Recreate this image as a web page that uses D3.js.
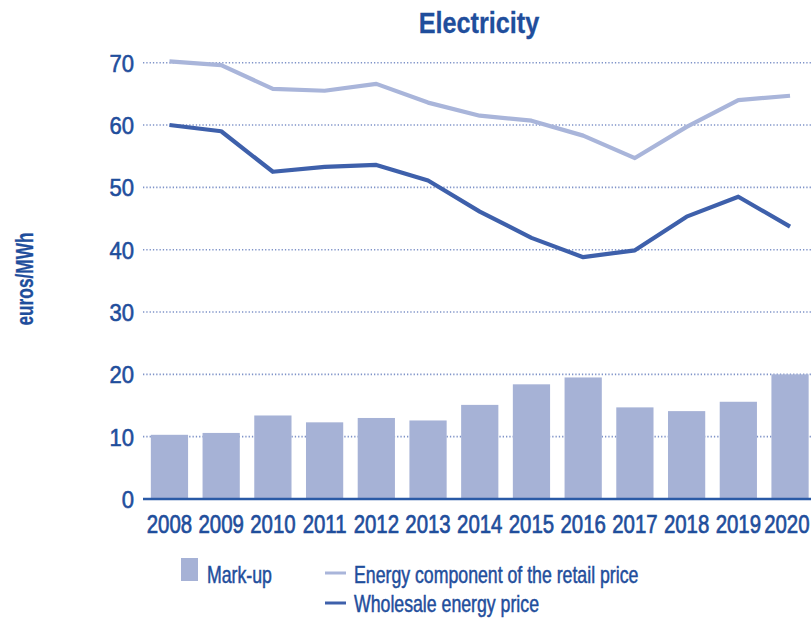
<!DOCTYPE html>
<html><head><meta charset="utf-8">
<script src="https://cdn.jsdelivr.net/npm/d3@7/dist/d3.min.js"></script>
<style>
body{margin:0;background:#fff;}
text{font-family:"Liberation Sans","Arial",sans-serif;fill:#1f4e9c;stroke:#1f4e9c;stroke-width:0.5px;}
</style></head>
<body>
<svg id="chart" width="811" height="623"></svg>
<script>
const years = ["2008","2009","2010","2011","2012","2013","2014","2015","2016","2017","2018","2019","2020"];
const markup = [10.3,10.6,13.4,12.3,13.0,12.6,15.1,18.4,19.5,14.7,14.1,15.6,20.0];
const retail = [70.2,69.6,65.8,65.5,66.6,63.6,61.5,60.7,58.3,54.7,59.7,64.0,64.7];
const wholesale = [60.0,59.0,52.5,53.3,53.6,51.1,46.1,41.9,38.8,39.9,45.3,48.5,43.7];
const yTicks = [0,10,20,30,40,50,60,70];

const svg = d3.select("#chart");
const x = d3.scaleBand().domain(years).range([143.6,815.9]).paddingInner(0.28).paddingOuter(0.14);
const y = d3.scaleLinear().domain([0,70]).range([499,62.7]);

// condensed text helper
function ctext(g, tx, ty, sx, size, str, weight, anchor){
  return g.append("text").attr("transform",`translate(${tx},${ty}) scale(${sx},1)`)
    .attr("font-size",size).attr("font-weight",weight||"normal")
    .attr("text-anchor",anchor||"start").text(str);
}

// title
ctext(svg,479,33,0.87,29,"Electricity","bold","middle").style("stroke-width","0.3px");

// y title
svg.append("text").attr("transform","translate(33,279) rotate(-90) scale(0.72,1)").attr("text-anchor","middle")
  .attr("font-size",24).attr("font-weight","bold").style("stroke-width","0.3px").text("euros/MWh");

// gridlines
svg.append("g").selectAll("line").data(yTicks.filter(d=>d>0)).join("line")
  .attr("x1",143).attr("x2",811).attr("y1",d=>y(d)).attr("y2",d=>y(d))
  .attr("stroke","#7f93c8").attr("stroke-width",1.6).attr("stroke-dasharray","1.3,2");

// y axis labels
const yAxis = d3.axisLeft(y).tickValues(yTicks).tickSize(0).tickPadding(0);
const ga = svg.append("g").attr("transform","translate(134,0)").call(yAxis);
ga.select(".domain").remove();
ga.selectAll("text").attr("font-size",24).attr("dy","0.35em").attr("x",0)
  .attr("transform","scale(0.92,1)").style("font-family",null).attr("fill",null).style("stroke-width","0.6px");

// bars
svg.append("g").selectAll("rect").data(years).join("rect")
  .attr("x",d=>x(d)).attr("width",x.bandwidth())
  .attr("y",(d,i)=>y(markup[i])).attr("height",(d,i)=>y(0)-y(markup[i]))
  .attr("fill","#a6b2d6");

// baseline
svg.append("line").attr("x1",143).attr("x2",811).attr("y1",y(0)).attr("y2",y(0))
  .attr("stroke","#2a5aa6").attr("stroke-width",2.6);

// x axis labels
const xAxis = d3.axisBottom(x).tickSize(0).tickPadding(0);
const gx = svg.append("g").attr("transform","translate(0,"+(y(0))+")").call(xAxis);
gx.select(".domain").remove();
gx.selectAll("text").attr("font-size",25.5).attr("y",34.5).attr("dy",0)
  .attr("x",(d,i)=>i===years.length-1?-4:0)
  .attr("transform","scale(0.8,1)").style("font-family",null).attr("fill",null).style("stroke-width","0.7px");

// lines
const line = d3.line().x(d=>x(d[0])+x.bandwidth()/2).y(d=>y(d[1]));
svg.append("path").datum(years.map((d,i)=>[d,retail[i]])).attr("d",line)
  .attr("fill","none").attr("stroke","#a9b5da").attr("stroke-width",4.2).attr("stroke-linejoin","round");
svg.append("path").datum(years.map((d,i)=>[d,wholesale[i]])).attr("d",line)
  .attr("fill","none").attr("stroke","#3e60ab").attr("stroke-width",4.2).attr("stroke-linejoin","round");

// legend
const lg = svg.append("g");
lg.append("rect").attr("x",181).attr("y",558).attr("width",17).attr("height",23).attr("fill","#a6b2d6");
ctext(lg,207,582.5,0.77,23,"Mark-up");
lg.append("line").attr("x1",325).attr("x2",346).attr("y1",573).attr("y2",573).attr("stroke","#a9b5da").attr("stroke-width",3);
ctext(lg,354,582.5,0.77,23,"Energy component of the retail price");
lg.append("line").attr("x1",325).attr("x2",346).attr("y1",603).attr("y2",603).attr("stroke","#3e60ab").attr("stroke-width",3);
ctext(lg,354,612,0.77,23,"Wholesale energy price");
</script>
</body></html>
